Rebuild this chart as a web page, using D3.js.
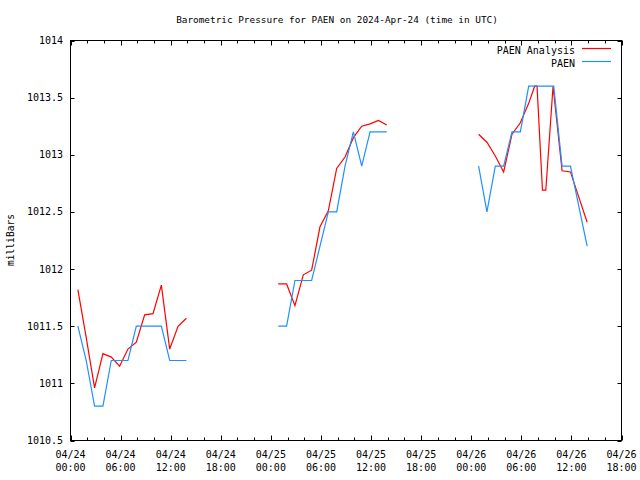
<!DOCTYPE html>
<html>
<head>
<meta charset="utf-8">
<script src="https://cdn.jsdelivr.net/npm/d3@7"></script>
<style>
  body { margin: 0; background: #fff; }
  svg { display: block; }
  text { font-family: "DejaVu Sans Mono", "Liberation Mono", monospace; fill: #000; }
</style>
</head>
<body>
<svg id="chart" width="640" height="480"></svg>
<script>
// ---- data (UTC times, millibars) ----
const seriesNames = ["PAEN Analysis", "PAEN"];
const seriesColors = ["#ff0000", "#1e90ff"];

const analysisTimes = [
  "2024-04-24T00:53", "2024-04-24T01:53", "2024-04-24T02:53", "2024-04-24T03:53", "2024-04-24T04:53",
  "2024-04-24T05:53", "2024-04-24T06:53", "2024-04-24T07:53", "2024-04-24T08:53", "2024-04-24T09:53",
  "2024-04-24T10:53", "2024-04-24T11:53", "2024-04-24T12:53", "2024-04-24T13:53", null,
  "2024-04-25T00:53", "2024-04-25T01:53", "2024-04-25T02:53", "2024-04-25T03:53", "2024-04-25T04:53",
  "2024-04-25T05:53", "2024-04-25T06:53", "2024-04-25T07:53", "2024-04-25T08:53", "2024-04-25T09:53",
  "2024-04-25T10:53", "2024-04-25T11:53", "2024-04-25T12:53", "2024-04-25T13:53", null,
  "2024-04-26T00:53", "2024-04-26T01:53", "2024-04-26T02:53", "2024-04-26T03:53", "2024-04-26T04:53",
  "2024-04-26T05:53", "2024-04-26T06:53", "2024-04-26T07:36", "2024-04-26T07:53", "2024-04-26T08:32",
  "2024-04-26T08:56", "2024-04-26T09:48", "2024-04-26T10:53", "2024-04-26T11:53", "2024-04-26T12:53",
  "2024-04-26T13:53"
];
const analysisValues = [
  1011.82, 1011.40, 1010.96, 1011.26, 1011.23,
  1011.15, 1011.30, 1011.36, 1011.60, 1011.61,
  1011.86, 1011.30, 1011.50, 1011.57, null,
  1011.87, 1011.87, 1011.68, 1011.95, 1011.99,
  1012.37, 1012.51, 1012.88, 1012.98, 1013.15,
  1013.25, 1013.27, 1013.30, 1013.26, null,
  1013.18, 1013.11, 1012.99, 1012.85, 1013.18,
  1013.28, 1013.45, 1013.60, 1013.60, 1012.69,
  1012.69, 1013.60, 1012.86, 1012.85, 1012.63,
  1012.41
];

const obsTimes = [
  "2024-04-24T00:53", "2024-04-24T01:53", "2024-04-24T02:53", "2024-04-24T03:53", "2024-04-24T04:53",
  "2024-04-24T05:53", "2024-04-24T06:53", "2024-04-24T07:53", "2024-04-24T08:53", "2024-04-24T09:53",
  "2024-04-24T10:53", "2024-04-24T11:53", "2024-04-24T12:53", "2024-04-24T13:53", null,
  "2024-04-25T00:53", "2024-04-25T01:53", "2024-04-25T02:53", "2024-04-25T03:53", "2024-04-25T04:53",
  "2024-04-25T05:53", "2024-04-25T06:53", "2024-04-25T07:53", "2024-04-25T08:53", "2024-04-25T09:53",
  "2024-04-25T10:53", "2024-04-25T11:53", "2024-04-25T12:53", "2024-04-25T13:53", null,
  "2024-04-26T00:53", "2024-04-26T01:53", "2024-04-26T02:53", "2024-04-26T03:53", "2024-04-26T04:53",
  "2024-04-26T05:53", "2024-04-26T06:53", "2024-04-26T07:53", "2024-04-26T08:53", "2024-04-26T09:53",
  "2024-04-26T10:53", "2024-04-26T11:53", "2024-04-26T12:53", "2024-04-26T13:53"
];
const obsValues = [
  1011.5, 1011.2, 1010.8, 1010.8, 1011.2,
  1011.2, 1011.2, 1011.5, 1011.5, 1011.5,
  1011.5, 1011.2, 1011.2, 1011.2, null,
  1011.5, 1011.5, 1011.9, 1011.9, 1011.9,
  1012.2, 1012.5, 1012.5, 1012.9, 1013.2,
  1012.9, 1013.2, 1013.2, 1013.2, null,
  1012.9, 1012.5, 1012.9, 1012.9, 1013.2,
  1013.2, 1013.6, 1013.6, 1013.6, 1013.6,
  1012.9, 1012.9, 1012.55, 1012.2
];

const yTickValues = [1010.5, 1011, 1011.5, 1012, 1012.5, 1013, 1013.5, 1014];
const yTickLabels = ["1010.5", "1011", "1011.5", "1012", "1012.5", "1013", "1013.5", "1014"];
const xStart = "2024-04-24T00:00";
const xEnd = "2024-04-26T18:00";
const titleText = "Barometric Pressure for PAEN on 2024-Apr-24 (time in UTC)";
const yLabelText = "milliBars";

// ---- drawing ----
const parseT = s => s === null ? null : new Date(s + ":00Z");
const svg = d3.select("#chart");
const pL = 70.5, pR = 621.5, pT = 40.5, pB = 440.5;

const x = d3.scaleUtc().domain([parseT(xStart), parseT(xEnd)]).range([pL, pR]);
const y = d3.scaleLinear().domain([1010.5, 1014]).range([pB, pT]);

const fmtDate = d3.utcFormat("%m/%d");
const fmtTime = d3.utcFormat("%H:%M");
const majorTicks = x.ticks(d3.utcHour.every(6));
const minorTicks = x.ticks(d3.utcHour.every(2)).filter(t => t.getUTCHours() % 6 !== 0);

const g = svg.append("g");
const px = d => Math.round(x(d)) + 0.5;
const py = d => Math.round(y(d)) + 0.5;

// x ticks (bottom and top, pointing inward)
[[majorTicks, 5], [minorTicks, 3]].forEach(([ticks, len]) => {
  g.append("g").selectAll("line").data(ticks).enter().append("line")
    .attr("x1", px).attr("x2", px).attr("y1", pB).attr("y2", pB - len).attr("stroke", "#000");
  g.append("g").selectAll("line").data(ticks).enter().append("line")
    .attr("x1", px).attr("x2", px).attr("y1", pT).attr("y2", pT + len).attr("stroke", "#000");
});

// y ticks (left and right)
g.append("g").selectAll("line").data(yTickValues).enter().append("line")
  .attr("x1", pL).attr("x2", pL + 4).attr("y1", py).attr("y2", py).attr("stroke", "#000");
g.append("g").selectAll("line").data(yTickValues).enter().append("line")
  .attr("x1", pR).attr("x2", pR - 4).attr("y1", py).attr("y2", py).attr("stroke", "#000");

// frame
g.append("rect").attr("x", pL).attr("y", pT)
  .attr("width", pR - pL).attr("height", pB - pT)
  .attr("fill", "none").attr("stroke", "#000");

// tick labels
g.append("g").selectAll("text").data(yTickValues).enter().append("text")
  .attr("x", 63).attr("y", d => y(d) + 3.5)
  .attr("text-anchor", "end").attr("font-size", 10)
  .text((d, i) => yTickLabels[i]);

const xl = g.append("g").selectAll("text").data(majorTicks).enter().append("text")
  .attr("text-anchor", "middle").attr("font-size", 10);
xl.append("tspan").attr("x", d => x(d)).attr("y", 458).text(d => fmtDate(d));
xl.append("tspan").attr("x", d => x(d)).attr("y", 471).text(d => fmtTime(d));

// title & axis label
svg.append("text").attr("x", 337).attr("y", 23).attr("text-anchor", "middle")
  .attr("font-size", 9.4).text(titleText);
svg.append("text").attr("transform", "translate(14,240) rotate(-90)")
  .attr("text-anchor", "middle").attr("font-size", 9.6).text(yLabelText);

// series
const line = d3.line()
  .defined(d => d.t !== null && d.v !== null)
  .x(d => x(d.t)).y(d => y(d.v));

const series = [
  analysisTimes.map((t, i) => ({ t: parseT(t), v: analysisValues[i] })),
  obsTimes.map((t, i) => ({ t: parseT(t), v: obsValues[i] }))
];

series.forEach((s, i) => {
  svg.append("path").datum(s)
    .attr("d", line).attr("fill", "none")
    .attr("stroke", seriesColors[i]).attr("stroke-width", 1.2);
});

// legend
seriesNames.forEach((name, i) => {
  const ly = 50 + i * 13;
  svg.append("text").attr("x", 575).attr("y", ly + 3.5)
    .attr("text-anchor", "end").attr("font-size", 10).text(name);
  svg.append("line").attr("x1", 582).attr("x2", 611)
    .attr("y1", ly - 1.5).attr("y2", ly - 1.5)
    .attr("stroke", seriesColors[i]).attr("stroke-width", 1.2);
});
</script>
</body>
</html>
